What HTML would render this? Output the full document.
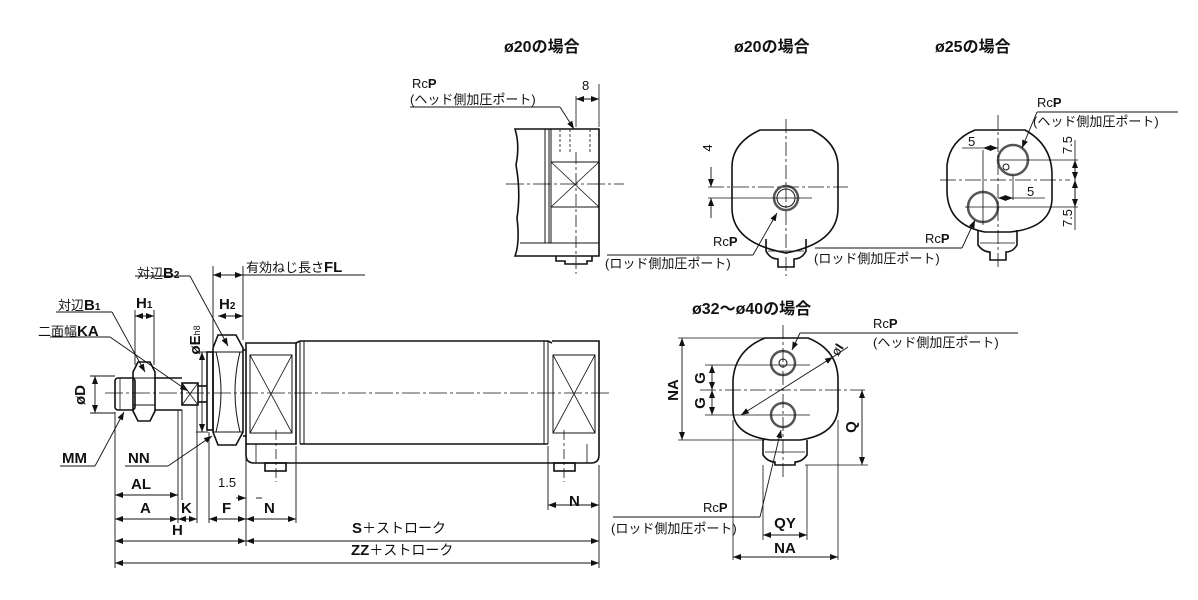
<!DOCTYPE html>
<html><head><meta charset="utf-8"><style>
html,body{margin:0;padding:0;background:#fff}
svg{display:block}
text{font-family:"Liberation Sans","Noto Sans CJK JP",sans-serif;fill:#111}
.b{font-weight:bold}
.t{font-size:16px;font-weight:bold}
.s{font-size:13px}
.l{font-size:15px;font-weight:bold}
</style></head><body>
<svg width="1198" height="600" viewBox="0 0 1198 600" xmlns="http://www.w3.org/2000/svg">
<defs>
<marker id="a" markerWidth="8" markerHeight="6" refX="8" refY="3" orient="auto-start-reverse" markerUnits="userSpaceOnUse"><path d="M0,0 L8,3 L0,6z" fill="#111"/></marker>
</defs>
<g fill="none" stroke="#111" stroke-width="1.6">
<!-- ===== main side view ===== -->
<rect x="115" y="378" width="20" height="32" rx="3"/>
<line x1="120" y1="378" x2="120" y2="410" stroke-width="0.8"/>
<path d="M138,362 L150,362 L155,372 L155,411 L150,421 L138,421 L133,411 L133,372Z"/>
<line x1="133" y1="378" x2="155" y2="378" stroke-width="1"/>
<line x1="133" y1="405" x2="155" y2="405" stroke-width="1"/>
<line x1="155" y1="378" x2="182" y2="378"/>
<line x1="155" y1="410" x2="182" y2="410"/>
<rect x="182" y="383" width="16" height="22"/>
<line x1="182" y1="383" x2="198" y2="405" stroke-width="0.8"/>
<line x1="198" y1="383" x2="182" y2="405" stroke-width="0.8"/>
<line x1="198" y1="386" x2="207" y2="386"/>
<line x1="198" y1="402" x2="207" y2="402"/>
<rect x="207" y="352" width="6" height="78"/>
<path d="M218,335 L236,335 L243,348 L243,432 L236,445 L218,445 L213,432 L213,348Z"/>
<path d="M216,352 Q226,392 216,432 M240,352 Q230,392 240,432" stroke-width="1"/>
<line x1="213" y1="352" x2="243" y2="352" stroke-width="1"/>
<line x1="213" y1="432" x2="243" y2="432" stroke-width="1"/>
<path d="M246,343 L296,343 L296,444 L246,444Z"/>
<line x1="243" y1="350" x2="246" y2="350"/><line x1="243" y1="436" x2="246" y2="436"/>
<rect x="250" y="355" width="42" height="78" stroke-width="1"/>
<line x1="250" y1="355" x2="292" y2="433" stroke-width="0.8"/>
<line x1="292" y1="355" x2="250" y2="433" stroke-width="0.8"/>
<path d="M296,343 L300,341 L548,341 L552,343"/>
<line x1="300" y1="444" x2="548" y2="444"/>
<line x1="300" y1="341" x2="300" y2="444" stroke-width="1"/>
<line x1="304" y1="341" x2="304" y2="444" stroke-width="1"/>
<line x1="544" y1="341" x2="544" y2="444" stroke-width="1"/>
<line x1="548" y1="341" x2="548" y2="444" stroke-width="1"/>
<path d="M552,341 L599,341 L599,455 Q599,463 591,463 L254,463 Q246,463 246,455 L246,444"/>
<rect x="553" y="355" width="42" height="78" stroke-width="1"/>
<line x1="553" y1="355" x2="595" y2="433" stroke-width="0.8"/>
<line x1="595" y1="355" x2="553" y2="433" stroke-width="0.8"/>
<line x1="256" y1="444" x2="256" y2="463" stroke-width="0.8"/>
<line x1="587" y1="444" x2="587" y2="463" stroke-width="0.8"/>
<rect x="265" y="463" width="21" height="8"/>
<rect x="554" y="463" width="21" height="8"/>
<line x1="105" y1="393" x2="612" y2="393" stroke-width="0.8" stroke-dasharray="18 3 3 3"/>
<line x1="276" y1="430" x2="276" y2="482" stroke-width="0.8" stroke-dasharray="10 3 3 3"/>
<line x1="564" y1="430" x2="564" y2="482" stroke-width="0.8" stroke-dasharray="10 3 3 3"/>
<g stroke-width="0.9">
<line x1="115" y1="412" x2="115" y2="568"/>
<line x1="178" y1="410" x2="178" y2="523"/>
<line x1="182" y1="410" x2="182" y2="500"/>
<line x1="197" y1="405" x2="197" y2="523"/>
<line x1="209" y1="432" x2="209" y2="523"/>
<line x1="246" y1="446" x2="246" y2="546"/>
<line x1="296" y1="446" x2="296" y2="523"/>
<line x1="599" y1="465" x2="599" y2="568"/>
<line x1="548" y1="446" x2="548" y2="510"/>
<line x1="135" y1="310" x2="135" y2="365"/>
<line x1="154" y1="310" x2="154" y2="365"/>
<line x1="213" y1="266" x2="213" y2="348"/>
<line x1="243" y1="266" x2="243" y2="340"/>
<line x1="90" y1="376" x2="115" y2="376"/>
<line x1="90" y1="413" x2="115" y2="413"/>
<line x1="196" y1="352" x2="208" y2="352"/>
<line x1="196" y1="432" x2="208" y2="432"/>
</g>
<g stroke-width="0.9" marker-start="url(#a)" marker-end="url(#a)">
<line x1="115" y1="495" x2="178" y2="495"/>
<line x1="115" y1="519" x2="178" y2="519"/>
<line x1="178" y1="519" x2="197" y2="519"/>
<line x1="209" y1="519" x2="246" y2="519"/>
<line x1="246" y1="519" x2="296" y2="519"/>
<line x1="548" y1="505" x2="599" y2="505"/>
<line x1="115" y1="541" x2="246" y2="541"/>
<line x1="246" y1="541" x2="599" y2="541"/>
<line x1="115" y1="563" x2="599" y2="563"/>
<line x1="135" y1="316" x2="154" y2="316"/>
<line x1="213" y1="275" x2="243" y2="275"/>
<line x1="218" y1="316" x2="243" y2="316"/>
<line x1="95" y1="376" x2="95" y2="413"/>
<line x1="202" y1="352" x2="202" y2="432"/>
</g>
<line x1="236" y1="498" x2="246" y2="498" stroke-width="0.9" marker-end="url(#a)"/>
<line x1="262" y1="498" x2="256" y2="498" stroke-width="0.9"/>
<g stroke-width="0.9">
<line x1="240" y1="275" x2="365" y2="275"/>
<line x1="135" y1="276" x2="190" y2="276"/>
<line x1="190" y1="276" x2="228" y2="346" marker-end="url(#a)"/>
<line x1="56" y1="312" x2="112" y2="312"/>
<line x1="112" y1="312" x2="145" y2="372" marker-end="url(#a)"/>
<line x1="50" y1="337" x2="110" y2="337"/>
<line x1="110" y1="337" x2="188" y2="391" marker-end="url(#a)"/>
<line x1="60" y1="466" x2="95" y2="466"/>
<line x1="95" y1="466" x2="124" y2="412" marker-end="url(#a)"/>
<line x1="125" y1="466" x2="168" y2="466"/>
<line x1="168" y1="466" x2="212" y2="436" marker-end="url(#a)"/>
</g>

<!-- ===== view 1 side (ø20) ===== -->
<path d="M515,129 L599,129 L599,256 L515,256 Q520,243 517,218 Q521,193 516,165 Q520,145 515,129Z"/>
<line x1="545" y1="129" x2="545" y2="243" stroke-width="1"/>
<line x1="549" y1="129" x2="549" y2="243" stroke-width="1"/>
<line x1="551" y1="129" x2="551" y2="243" stroke-width="1"/>
<line x1="520" y1="243" x2="599" y2="243" stroke-width="1"/>
<rect x="551" y="162" width="48" height="45" stroke-width="1"/>
<line x1="551" y1="162" x2="599" y2="207" stroke-width="0.8"/>
<line x1="599" y1="162" x2="551" y2="207" stroke-width="0.8"/>
<line x1="560" y1="129" x2="560" y2="152" stroke-width="0.8" stroke-dasharray="3 2"/>
<line x1="570" y1="129" x2="570" y2="152" stroke-width="0.8" stroke-dasharray="3 2"/>
<line x1="590" y1="129" x2="590" y2="152" stroke-width="0.8" stroke-dasharray="3 2"/>
<path d="M556,256 L556,261 L565,261 L565,264 L587,264 L587,261 L592,261 L592,256"/>
<line x1="506" y1="184" x2="624" y2="184" stroke-width="0.8" stroke-dasharray="18 3 3 3"/>
<line x1="576" y1="152" x2="576" y2="274" stroke-width="0.8" stroke-dasharray="12 3 3 3"/>
<line x1="599" y1="84" x2="599" y2="127" stroke-width="0.8"/>
<line x1="576" y1="96" x2="576" y2="127" stroke-width="0.8"/>
<line x1="576" y1="99" x2="599" y2="99" stroke-width="0.9" marker-start="url(#a)" marker-end="url(#a)"/>
<line x1="410" y1="107" x2="560" y2="107" stroke-width="0.9"/>
<line x1="560" y1="107" x2="574" y2="129" stroke-width="0.9" marker-end="url(#a)"/>

<!-- ===== view 2 (ø20 front) ===== -->
<path d="M760,130 L812,130 Q838,143 838,167 L838,208 Q838,243 786,253 Q732,243 732,208 L732,167 Q732,143 760,130Z"/>
<circle cx="786" cy="198" r="12" stroke-width="2.5" stroke="#555"/>
<circle cx="786" cy="198" r="9" stroke-width="1"/>
<path d="M766,239 L766,251 Q770,259 778,259 L778,267 L794,267 L794,259 Q802,259 806,251 L806,239" />
<line x1="768" y1="251" x2="804" y2="251" stroke-width="0.8"/>
<line x1="786" y1="119" x2="786" y2="276" stroke-width="0.8" stroke-dasharray="14 3 3 3"/>
<line x1="708" y1="187" x2="848" y2="187" stroke-width="0.8" stroke-dasharray="16 3 3 3"/>
<line x1="708" y1="198" x2="812" y2="198" stroke-width="0.8"/>
<line x1="711" y1="167" x2="711" y2="187" stroke-width="0.9" marker-end="url(#a)"/>
<line x1="711" y1="218" x2="711" y2="198" stroke-width="0.9" marker-end="url(#a)"/>
<line x1="607" y1="255" x2="753" y2="255" stroke-width="0.9"/>
<line x1="753" y1="255" x2="777" y2="213" stroke-width="0.9" marker-end="url(#a)"/>

<!-- ===== view 3 (ø25) ===== -->
<path d="M975,130 L1025,130 Q1052,145 1052,175 L1052,200 Q1050,228 1010,232 L985,232 Q947,225 947,190 L947,165 Q950,140 975,130Z"/>
<circle cx="1013" cy="160" r="15" stroke-width="2.5" stroke="#555"/>
<circle cx="983" cy="207" r="15" stroke-width="2.5" stroke="#555"/>
<circle cx="1006" cy="167" r="3" stroke-width="1"/>
<path d="M978,230 L978,245 Q983,252 990,252 L990,260 L1006,260 L1006,252 Q1013,252 1017,245 L1017,230"/>
<line x1="980" y1="243" x2="1015" y2="243" stroke-width="0.8"/>
<line x1="998" y1="115" x2="998" y2="268" stroke-width="0.8" stroke-dasharray="14 3 3 3"/>
<line x1="940" y1="180" x2="1070" y2="180" stroke-width="0.8" stroke-dasharray="16 3 3 3"/>
<line x1="997" y1="160" x2="1078" y2="160" stroke-width="0.8"/>
<line x1="965" y1="207" x2="1078" y2="207" stroke-width="0.8"/>
<line x1="983" y1="150" x2="983" y2="225" stroke-width="0.8"/>
<line x1="1013" y1="175" x2="1013" y2="200" stroke-width="0.8"/>
<line x1="1075" y1="140" x2="1075" y2="230" stroke-width="0.8"/>
<line x1="1075" y1="160" x2="1075" y2="180" stroke-width="0.9" marker-start="url(#a)" marker-end="url(#a)"/>
<line x1="1075" y1="180" x2="1075" y2="207" stroke-width="0.9" marker-start="url(#a)" marker-end="url(#a)"/>
<line x1="962" y1="148" x2="983" y2="148" stroke-width="0.8"/>
<line x1="983" y1="148" x2="998" y2="148" stroke-width="0.8" marker-start="url(#a)" marker-end="url(#a)"/>
<line x1="998" y1="198" x2="1013" y2="198" stroke-width="0.8" marker-start="url(#a)" marker-end="url(#a)"/>
<line x1="1013" y1="198" x2="1045" y2="198" stroke-width="0.8"/>
<line x1="1037" y1="112" x2="1178" y2="112" stroke-width="0.9"/>
<line x1="1037" y1="112" x2="1022" y2="148" stroke-width="0.9" marker-end="url(#a)"/>
<line x1="815" y1="248" x2="962" y2="248" stroke-width="0.9"/>
<line x1="962" y1="248" x2="975" y2="220" stroke-width="0.9" marker-end="url(#a)"/>

<!-- ===== view 4 (ø32~40) ===== -->
<path d="M765,338 L808,338 Q838,350 838,380 L838,410 Q835,435 800,440 L770,440 Q733,435 733,410 L733,380 Q735,350 765,338Z"/>
<circle cx="783" cy="363" r="12" stroke-width="2.5" stroke="#555"/>
<circle cx="783" cy="363" r="4" stroke-width="1"/>
<circle cx="783" cy="415" r="12" stroke-width="2.5" stroke="#555"/>
<path d="M763,440 L763,455 Q768,462 775,462 L775,465 L795,465 L795,462 Q802,462 807,455 L807,440"/>
<line x1="765" y1="452" x2="805" y2="452" stroke-width="0.8"/>
<line x1="783" y1="325" x2="783" y2="478" stroke-width="0.8" stroke-dasharray="14 3 3 3"/>
<line x1="700" y1="390" x2="865" y2="390" stroke-width="0.8" stroke-dasharray="16 3 3 3"/>
<line x1="705" y1="365" x2="810" y2="365" stroke-width="0.8"/>
<line x1="705" y1="415" x2="810" y2="415" stroke-width="0.8"/>
<line x1="678" y1="338" x2="770" y2="338" stroke-width="0.8"/>
<line x1="678" y1="440" x2="765" y2="440" stroke-width="0.8"/>
<line x1="805" y1="465" x2="868" y2="465" stroke-width="0.8"/>
<line x1="682" y1="338" x2="682" y2="440" stroke-width="0.9" marker-start="url(#a)" marker-end="url(#a)"/>
<line x1="712" y1="365" x2="712" y2="390" stroke-width="0.9" marker-start="url(#a)" marker-end="url(#a)"/>
<line x1="712" y1="390" x2="712" y2="415" stroke-width="0.9" marker-start="url(#a)" marker-end="url(#a)"/>
<line x1="862" y1="390" x2="862" y2="465" stroke-width="0.9" marker-start="url(#a)" marker-end="url(#a)"/>
<line x1="741" y1="415" x2="833" y2="357" stroke-width="0.9" marker-start="url(#a)" marker-end="url(#a)"/>
<line x1="833" y1="357" x2="848" y2="347" stroke-width="0.9"/>
<line x1="733" y1="420" x2="733" y2="560" stroke-width="0.8"/>
<line x1="838" y1="420" x2="838" y2="560" stroke-width="0.8"/>
<line x1="763" y1="465" x2="763" y2="540" stroke-width="0.8"/>
<line x1="807" y1="465" x2="807" y2="540" stroke-width="0.8"/>
<line x1="763" y1="535" x2="807" y2="535" stroke-width="0.9" marker-start="url(#a)" marker-end="url(#a)"/>
<line x1="733" y1="557" x2="838" y2="557" stroke-width="0.9" marker-start="url(#a)" marker-end="url(#a)"/>
<line x1="800" y1="333" x2="1018" y2="333" stroke-width="0.9"/>
<line x1="800" y1="333" x2="792" y2="350" stroke-width="0.9" marker-end="url(#a)"/>
<line x1="613" y1="517" x2="760" y2="517" stroke-width="0.9"/>
<line x1="760" y1="517" x2="781" y2="430" stroke-width="0.9" marker-end="url(#a)"/>
</g>

<!-- ===== texts ===== -->
<text x="504" y="52" class="t">ø20の場合</text>
<text x="734" y="52" class="t">ø20の場合</text>
<text x="935" y="52" class="t">ø25の場合</text>
<text x="692" y="314" class="t">ø32～ø40の場合</text>

<text x="412" y="88" class="s">Rc<tspan class="b">P</tspan></text>
<text x="410" y="104" class="s">(ヘッド側加圧ポート)</text>
<text x="582" y="90" class="s">8</text>
<text x="708" y="148" class="s" transform="rotate(-90 708 148)" text-anchor="middle" dy="4">4</text>
<text x="713" y="246" class="s">Rc<tspan class="b">P</tspan></text>
<text x="605" y="268" class="s">(ロッド側加圧ポート)</text>

<text x="1037" y="107" class="s">Rc<tspan class="b">P</tspan></text>
<text x="1033" y="126" class="s">(ヘッド側加圧ポート)</text>
<text x="968" y="146" class="s">5</text>
<text x="1027" y="196" class="s">5</text>
<text x="1072" y="145" class="s" transform="rotate(-90 1072 145)" text-anchor="middle">7.5</text>
<text x="1072" y="218" class="s" transform="rotate(-90 1072 218)" text-anchor="middle">7.5</text>
<text x="925" y="243" class="s">Rc<tspan class="b">P</tspan></text>
<text x="814" y="263" class="s">(ロッド側加圧ポート)</text>

<text x="873" y="328" class="s">Rc<tspan class="b">P</tspan></text>
<text x="873" y="347" class="s">(ヘッド側加圧ポート)</text>
<text x="838" y="357" class="s" transform="rotate(-58 838 357)">ø<tspan class="b">I</tspan></text>
<text x="678" y="390" class="l" transform="rotate(-90 678 390)" text-anchor="middle">NA</text>
<text x="705" y="378" class="l" transform="rotate(-90 705 378)" text-anchor="middle">G</text>
<text x="705" y="403" class="l" transform="rotate(-90 705 403)" text-anchor="middle">G</text>
<text x="856" y="427" class="l" transform="rotate(-90 856 427)" text-anchor="middle">Q</text>
<text x="703" y="512" class="s">Rc<tspan class="b">P</tspan></text>
<text x="611" y="533" class="s">(ロッド側加圧ポート)</text>
<text x="785" y="528" class="l" text-anchor="middle">QY</text>
<text x="785" y="553" class="l" text-anchor="middle">NA</text>

<text x="137" y="278" class="s">対辺<tspan class="b" font-size="15">B</tspan><tspan class="b" font-size="10">2</tspan></text>
<text x="246" y="272" class="s">有効ねじ長さ<tspan class="b" font-size="15">FL</tspan></text>
<text x="58" y="310" class="s">対辺<tspan class="b" font-size="15">B</tspan><tspan class="b" font-size="10">1</tspan></text>
<text x="136" y="308" class="l">H<tspan font-size="10">1</tspan></text>
<text x="219" y="309" class="l">H<tspan font-size="10">2</tspan></text>
<text x="38" y="336" class="s">二面幅<tspan class="b" font-size="15">KA</tspan></text>
<text x="200" y="340" class="l" transform="rotate(-90 200 340)" text-anchor="middle">øE<tspan font-size="9" font-weight="normal">h8</tspan></text>
<text x="85" y="395" class="l" transform="rotate(-90 85 395)" text-anchor="middle">øD</text>
<text x="62" y="463" class="l">MM</text>
<text x="128" y="463" class="l">NN</text>
<text x="131" y="489" class="l">AL</text>
<text x="140" y="513" class="l">A</text>
<text x="181" y="513" class="l">K</text>
<text x="222" y="513" class="l">F</text>
<text x="264" y="513" class="l">N</text>
<text x="218" y="487" class="s">1.5</text>
<text x="569" y="506" class="l">N</text>
<text x="172" y="535" class="l">H</text>
<text x="352" y="533" class="l">S<tspan font-weight="normal" font-size="14">＋ストローク</tspan></text>
<text x="351" y="555" class="l">ZZ<tspan font-weight="normal" font-size="14">＋ストローク</tspan></text>
</svg>
</body></html>
